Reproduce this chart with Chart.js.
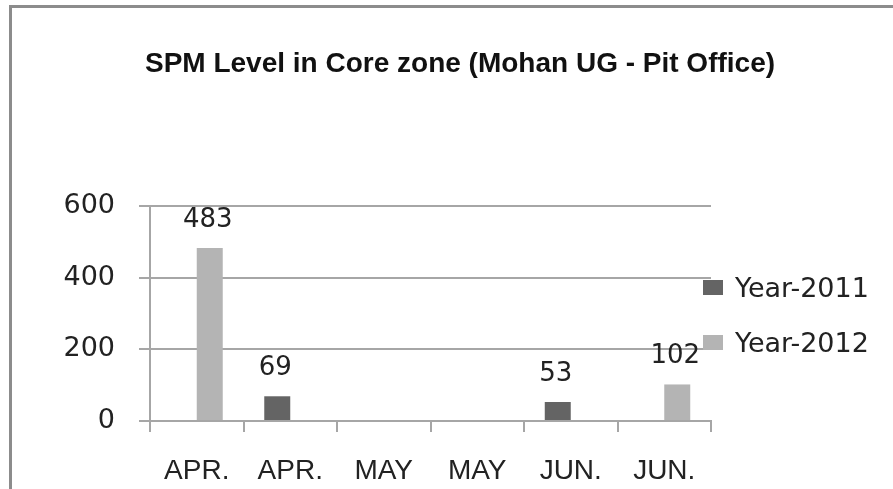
<!DOCTYPE html>
<html lang="en">
<head>
<meta charset="UTF-8">
<title>SPM Level in Core zone</title>
<style>
  html, body { margin: 0; padding: 0; background: #fff; }
  .wrap { position: relative; width: 893px; height: 489px; overflow: hidden; }
  .frame { position: absolute; left: 9px; top: 5px; width: 900px; height: 500px;
           border-left: 3px solid #8c8c8c; border-top: 3px solid #8c8c8c; }
  canvas { position: absolute; left: 0; top: 0; }
</style>
</head>
<body>
<div class="wrap">
  <div class="frame"></div>
  <canvas id="spm" width="893" height="489"></canvas>
</div>

<script src="https://cdn.jsdelivr.net/npm/chart.js"></script>
<script>
// data
const months = ['APR.', 'APR.', 'MAY', 'MAY', 'JUN.', 'JUN.'];
const year2011 = [null, 69, null, null, 53, null];
const year2012 = [483, null, null, null, null, 102];
const yTicks = [0, 200, 400, 600];
const seriesNames = ['Year-2011', 'Year-2012'];
const chartTitle = 'SPM Level in Core zone (Mohan UG - Pit Office)';

const gridGrey = '#a6a6a6';
const textCol = '#222';

// title, value labels and legend drawn on the canvas
const extras = {
    id: 'extras',
    afterDatasetsDraw(chart) {
        const ctx = chart.ctx;
        ctx.save();
        ctx.fillStyle = textCol;
        ctx.font = '26px "DejaVu Sans"';
        ctx.textAlign = 'center';
        ctx.textBaseline = 'alphabetic';
        chart.data.datasets.forEach((ds, i) => {
            chart.getDatasetMeta(i).data.forEach((bar, j) => {
                if (ds.data[j] == null) return;
                ctx.fillText(String(ds.data[j]), bar.x - 2, bar.y - 21);
            });
        });
        ctx.restore();
    },
    afterDraw(chart) {
        const ctx = chart.ctx;
        ctx.save();
        // title
        ctx.fillStyle = '#111';
        ctx.font = 'bold 28px "Liberation Sans"';
        ctx.textAlign = 'center';
        ctx.textBaseline = 'alphabetic';
        ctx.fillText(chartTitle, 460, 72);
        // legend
        ctx.textAlign = 'left';
        ctx.font = '27px "DejaVu Sans"';
        chart.data.datasets.forEach((ds, i) => {
            const top = 280 + i * 55;
            ctx.fillStyle = ds.backgroundColor;
            ctx.fillRect(703, top, 20, 15);
            ctx.fillStyle = textCol;
            ctx.fillText(ds.label, 735, top + 17);
        });
        ctx.restore();
    }
};

new Chart(document.getElementById('spm'), {
    type: 'bar',
    data: {
        labels: months,
        datasets: [{
            label: seriesNames[0],
            data: year2011,
            backgroundColor: '#646464'
        }, {
            label: seriesNames[1],
            data: year2012,
            backgroundColor: '#b4b4b4'
        }]
    },
    options: {
        responsive: false,
        animation: false,
        categoryPercentage: 0.556,
        barPercentage: 1,
        layout: { padding: { left: 0, right: 182, top: 206, bottom: 0 } },
        plugins: {
            legend: { display: false },
            title: { display: false },
            tooltip: { enabled: false }
        },
        scales: {
            x: {
                grid: { offset: true, drawOnChartArea: false, tickLength: 11, color: gridGrey, lineWidth: 2 },
                border: { color: gridGrey, width: 2 },
                ticks: { font: { family: 'Liberation Sans', size: 28 }, color: textCol, padding: 22, maxRotation: 0, autoSkip: false },
                afterFit(s) { s.height = 68; }
            },
            y: {
                min: 0,
                max: 600,
                afterBuildTicks(s) { s.ticks = yTicks.map(v => ({ value: v })); },
                grid: { color: gridGrey, lineWidth: 2, tickLength: 11 },
                border: { color: gridGrey, width: 2 },
                ticks: { font: { family: 'DejaVu Sans', size: 27 }, color: textCol, padding: 24 },
                afterFit(s) { s.width = 150; }
            }
        }
    },
    plugins: [extras]
});
</script>
</body>
</html>
